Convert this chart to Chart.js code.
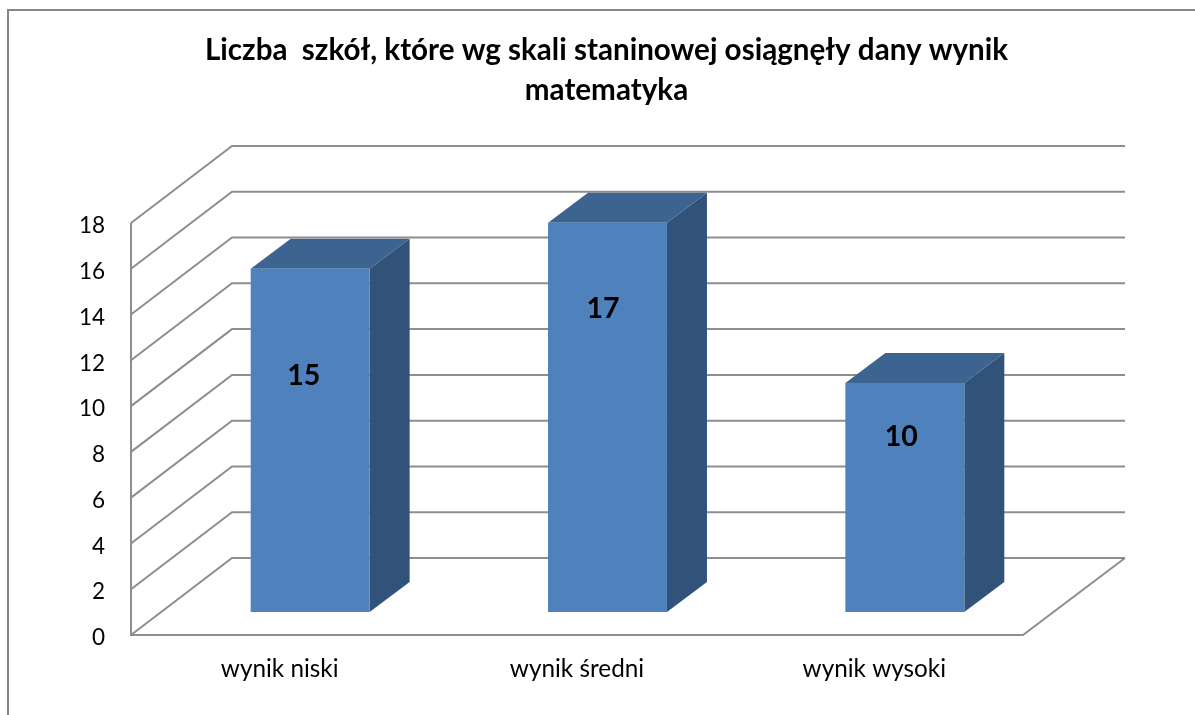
<!DOCTYPE html>
<html lang="pl">
<head>
<meta charset="utf-8">
<style>html,body{margin:0;padding:0;background:#fff}canvas{display:block}</style>
<script src="https://cdn.jsdelivr.net/npm/chart.js@4"></script>
</head>
<body>
<canvas id="c" width="1195" height="715"></canvas>
<script>
const titleLines = ['Liczba  szkół, które wg skali staninowej osiągnęły dany wynik', 'matematyka'];
const categories = ['wynik niski', 'wynik średni', 'wynik wysoki'];
const schools = [15, 17, 10];
const yMax = 18;
const yStep = 2;

const FONT = 'Lato, "Open Sans", sans-serif';
const wall = { dx: 101, dy: -77 };
const barShift = { dx: 30.5, dy: -23 };
const barDepth = { dx: 40, dy: -30 };
const labelOffset = { dx: [-6.5, -4.5, -3.5], levels: [11.32, 14.25, 8.65] };
const yLabelDrop = 3;
const LINE = '#8e8e8e';

function path(ctx, pts) {
  ctx.beginPath();
  pts.forEach((p, i) => i ? ctx.lineTo(p[0], p[1]) : ctx.moveTo(p[0], p[1]));
}

const bars3d = {
  id: 'bars3d',
  beforeDraw(chart) {
    const ctx = chart.ctx;
    ctx.save();
    ctx.strokeStyle = '#868686';
    ctx.lineWidth = 2;
    path(ctx, [[8, 715], [8, 10], [1195, 10]]);
    ctx.stroke();
    ctx.restore();
  },
  afterLayout(chart) {
    chart.titleBlock.left = 18;
    chart.titleBlock.right = 1195;
    const s = chart.scales.y;
    if (!s._dropped) {
      s._dropped = true;
      const orig = s.drawLabels;
      s.drawLabels = function (area) {
        this.ctx.save();
        this.ctx.translate(0, yLabelDrop);
        orig.call(this, area);
        this.ctx.restore();
      };
    }
  },
  beforeDatasetDraw(chart) {
    const ctx = chart.ctx, y = chart.scales.y, x = chart.scales.x;
    const L = x.left, R = x.right;
    ctx.save();
    ctx.strokeStyle = LINE;
    ctx.lineWidth = 2;
    y.ticks.forEach(t => {
      const py = y.getPixelForValue(t.value);
      path(ctx, [[L, py], [L + wall.dx, py + wall.dy], [R + wall.dx + 1, py + wall.dy]]);
      ctx.stroke();
    });
    const y0 = y.getPixelForValue(0), yTop = y.getPixelForValue(yMax);
    path(ctx, [[L, yTop], [L, y0], [R, y0], [R + wall.dx + 1, y0 + wall.dy]]);
    ctx.stroke();
    ctx.restore();

    ctx.save();
    ctx.translate(barShift.dx, barShift.dy);
    chart.getDatasetMeta(0).data.forEach(b => {
      const w = b.width / 2, l = b.x - w, r = b.x + w, t = b.y, base = b.base;
      ctx.fillStyle = '#3d6491';
      path(ctx, [[l, t], [l + barDepth.dx, t + barDepth.dy], [r + barDepth.dx, t + barDepth.dy], [r, t]]);
      ctx.closePath(); ctx.fill();
      ctx.fillStyle = '#315379';
      path(ctx, [[r, t], [r + barDepth.dx, t + barDepth.dy], [r + barDepth.dx, base + barDepth.dy], [r, base]]);
      ctx.closePath(); ctx.fill();
    });
  },
  afterDatasetDraw(chart) {
    const ctx = chart.ctx, y = chart.scales.y;
    ctx.restore();
    ctx.save();
    ctx.font = 'bold 28.5px ' + FONT;
    ctx.fillStyle = '#000';
    ctx.textAlign = 'center';
    ctx.textBaseline = 'middle';
    chart.getDatasetMeta(0).data.forEach((b, i) => {
      ctx.fillText(String(schools[i]), b.x + barShift.dx + labelOffset.dx[i], y.getPixelForValue(labelOffset.levels[i]));
    });
    ctx.restore();
  }
};

new Chart(document.getElementById('c'), {
  type: 'bar',
  data: {
    labels: categories,
    datasets: [{
      data: schools,
      backgroundColor: '#4f81bd',
      borderWidth: 0,
      categoryPercentage: 1,
      barPercentage: 0.4,
      clip: false
    }]
  },
  options: {
    responsive: false,
    animation: false,
    events: [],
    layout: { padding: { left: 0, right: 172, top: 0, bottom: 0 } },
    plugins: {
      legend: { display: false },
      tooltip: { enabled: false },
      title: {
        display: true,
        text: titleLines,
        color: '#000',
        font: { family: FONT, size: 29.6, weight: 'bold', lineHeight: 1.351 },
        padding: { top: 30, bottom: 113 }
      }
    },
    scales: {
      x: {
        grid: { display: false, drawTicks: false },
        border: { display: false },
        ticks: { color: '#000', font: { family: FONT, size: 24.3 }, padding: 20, maxRotation: 0 },
        afterFit(s) { s.height = 80; }
      },
      y: {
        min: 0,
        max: yMax,
        grid: { display: false, drawTicks: false },
        border: { display: false },
        ticks: { stepSize: yStep, color: '#000', font: { family: FONT, size: 22.5 }, padding: 26 },
        afterFit(s) { s.width = 131; }
      }
    }
  },
  plugins: [bars3d]
});
</script>
</body>
</html>
